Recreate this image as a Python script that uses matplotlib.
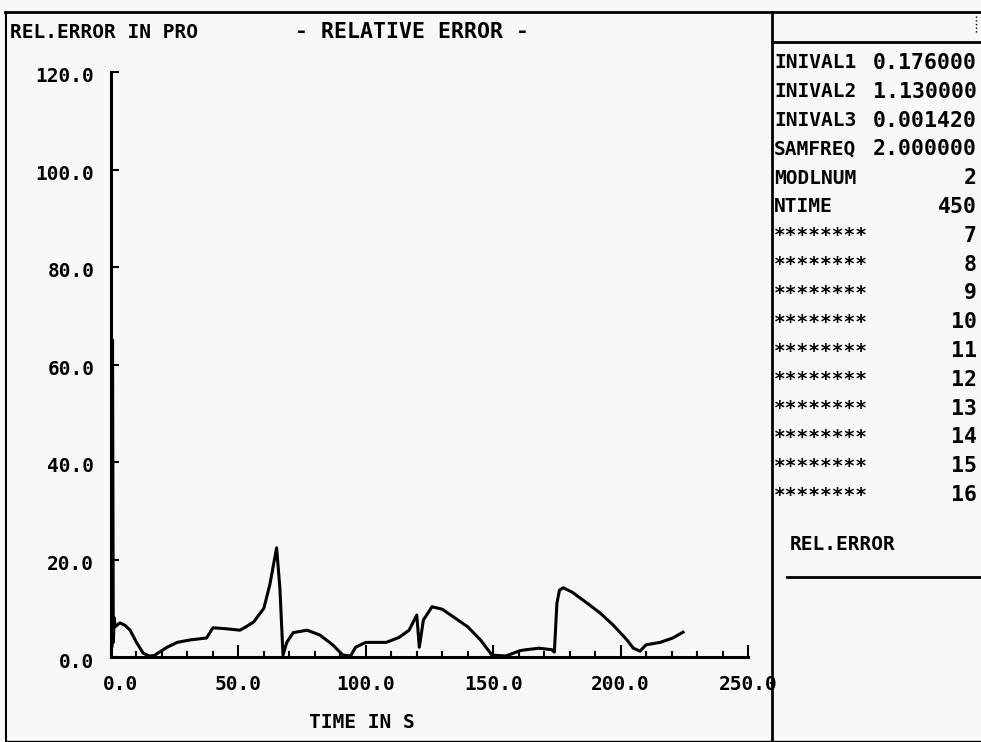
import matplotlib.pyplot as plt
from matplotlib.lines import Line2D
from matplotlib.ticker import MultipleLocator
from matplotlib.transforms import ScaledTranslation

# relative error curve
time_s = [0.0, 0.3, 0.6, 0.9, 1.3, 1.6, 3.5, 5.5, 7.5, 10.0, 12.6, 15.0, 17.0, 19.0,
          22.0, 26.0, 31.0, 37.5, 40.0, 45.0, 50.6, 53.0, 56.0, 60.0, 62.4, 65.0,
          66.3, 67.5, 69.0, 71.5, 77.0, 82.0, 87.0, 91.0, 94.0, 96.0, 100.0, 104.0,
          108.0, 113.0, 117.0, 120.0, 121.0, 122.6, 126.0, 130.0, 135.0, 140.0,
          145.0, 149.5, 155.0, 160.5, 163.0, 168.0, 173.0, 174.0, 175.0, 176.0,
          177.5, 181.0, 187.0, 192.0, 197.0, 202.5, 205.0, 207.6, 210.0, 215.5,
          220.5, 224.5]
rel_error = [110.0, 2.0, 65.0, 3.0, 8.0, 6.2, 7.0, 6.5, 5.5, 3.0, 0.8, 0.2, 0.3, 1.0,
             2.0, 3.0, 3.5, 3.9, 6.0, 5.8, 5.5, 6.2, 7.2, 10.0, 15.0, 22.4,
             14.0, 0.4, 3.0, 5.0, 5.5, 4.5, 2.5, 0.4, 0.2, 2.0, 3.0, 3.0,
             3.0, 4.0, 5.5, 8.6, 2.0, 7.6, 10.3, 9.8, 8.0, 6.2,
             3.5, 0.4, 0.2, 1.3, 1.5, 1.8, 1.5, 1.0, 11.0, 13.7,
             14.2, 13.3, 11.0, 9.0, 6.6, 3.5, 1.8, 1.2, 2.5, 3.0,
             3.9, 5.1]

x_ticks = [0, 50, 100, 150, 200, 250]
y_ticks = [0, 20, 40, 60, 80, 100, 120]

param_names = ['INIVAL1', 'INIVAL2', 'INIVAL3', 'SAMFREQ', 'MODLNUM', 'NTIME',
               '********', '********', '********', '********', '********',
               '********', '********', '********', '********', '********']
param_values = ['0.176000', '1.130000', '0.001420', '2.000000', '2', '450',
                '7', '8', '9', '10', '11', '12', '13', '14', '15', '16']

W, H = 981, 742
FONT = 'DejaVu Sans Mono'

fig = plt.figure(figsize=(W / 100, H / 100), dpi=100)
fig.patch.set_facecolor('#f8f8f8')


def fx(px):
    return px / W


def fy(py):
    return 1 - py / H


def hline(y, x0, x1, lw=1.5, ls='-'):
    fig.add_artist(Line2D([fx(x0), fx(x1)], [fy(y), fy(y)], color='black', lw=lw, ls=ls))


def vline(x, y0, y1, lw=1.5, ls='-'):
    fig.add_artist(Line2D([fx(x), fx(x)], [fy(y0), fy(y1)], color='black', lw=lw, ls=ls))


# frame
hline(12, 5, 981, 2)
vline(6, 12, 742, 1.5)
vline(772, 12, 742, 2)
hline(42, 772, 981, 2)
hline(577, 787, 981, 2)
hline(741, 6, 981, 1)
vline(976, 16, 34, 1, ':')

# plot area
ax = fig.add_axes([fx(111), fy(657), fx(748) - fx(111), fy(72) - fy(657)])
ax.set_facecolor('none')
ax.plot(time_s, rel_error, color='black', lw=2.2)
ax.set_xlim(0, 250)
ax.set_ylim(0, 120)
ax.set_xticks(x_ticks)
ax.set_yticks(y_ticks)
ax.set_xticklabels([f'{v:.1f}' for v in x_ticks])
ax.set_yticklabels([f'{v:.1f}' for v in y_ticks])
ax.xaxis.set_minor_locator(MultipleLocator(10))
for s in ['top', 'right']:
    ax.spines[s].set_visible(False)
for s in ['left', 'bottom']:
    ax.spines[s].set_linewidth(2.2)
ax.tick_params(axis='x', direction='in', length=9, width=1.5, pad=13)
ax.tick_params(axis='x', which='minor', direction='in', length=4, width=1.5)
ax.tick_params(axis='y', direction='in', length=6, width=1.5, pad=12)
for lab in ax.get_xticklabels() + ax.get_yticklabels():
    lab.set_fontfamily(FONT)
    lab.set_fontweight('bold')
    lab.set_fontsize(14)
# first x label sits a little right of the origin
xl0 = ax.get_xticklabels()[0]
xl0.set_transform(xl0.get_transform() + ScaledTranslation(10 / 100, 0, fig.dpi_scale_trans))
# y labels sit a little below their ticks
for lab in ax.get_yticklabels():
    lab.set_transform(lab.get_transform() + ScaledTranslation(0, -3 / 100, fig.dpi_scale_trans))

# texts
txt = dict(family=FONT, fontweight='bold', fontsize=14, color='black')
fig.text(fx(10), fy(32), 'REL.ERROR IN PRO', va='center', ha='left', **txt)
fig.text(fx(295), fy(32), '- RELATIVE ERROR -', va='center', ha='left',
         family=FONT, fontweight='bold', fontsize=15.5, color='black')
fig.text(fx(362), fy(722), 'TIME IN S', va='center', ha='center', **txt)

row_y = 63
for name, val in zip(param_names, param_values):
    fig.text(fx(774), fy(row_y), name, va='center', ha='left', **txt)
    fig.text(fx(977), fy(row_y), val, va='center', ha='right',
             family=FONT, fontweight='bold', fontsize=15.5, color='black')
    row_y += 28.8
fig.text(fx(790), fy(545), 'REL.ERROR', va='center', ha='left', **txt)

fig.savefig('out.png', dpi=100, facecolor=fig.get_facecolor())
